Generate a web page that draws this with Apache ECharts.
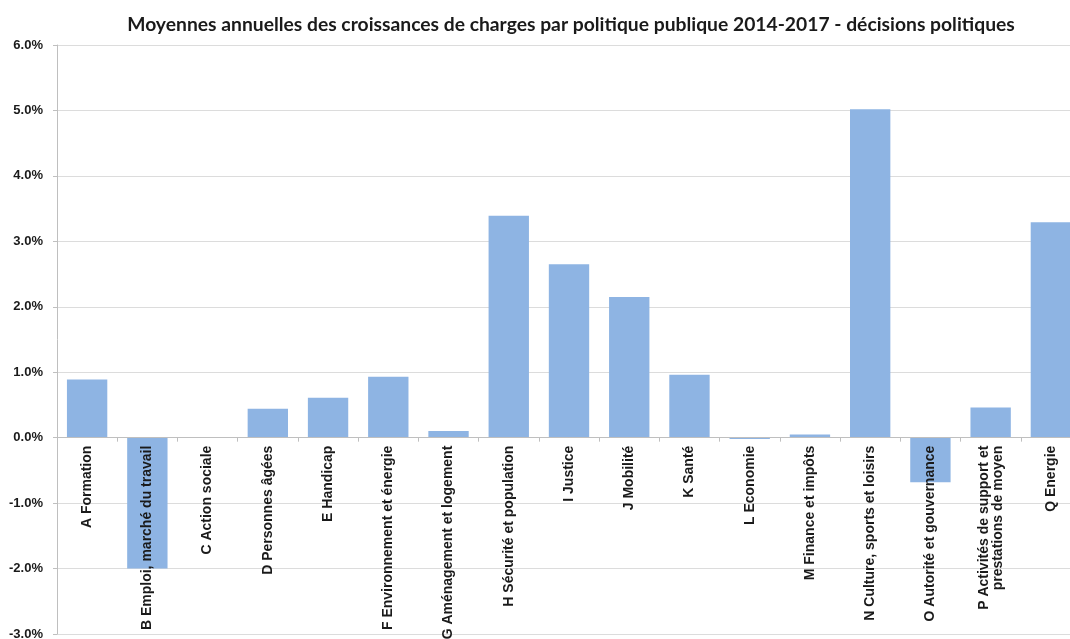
<!DOCTYPE html>
<html>
<head>
<meta charset="utf-8">
<script src="https://cdn.jsdelivr.net/npm/echarts@6/dist/echarts.min.js"></script>
<style>
  html, body { margin: 0; padding: 0; background: #ffffff; overflow: hidden; }
  #chart { width: 1085px; height: 639px; }
</style>
</head>
<body>
<div id="chart"></div>
<script>
// Policy areas (x axis)
const categories = [
  'A Formation',
  'B Emploi, marché du travail',
  'C Action sociale',
  'D Personnes âgées',
  'E Handicap',
  'F Environnement et énergie',
  'G Aménagement et logement',
  'H Sécurité et population',
  'I Justice',
  'J Mobilité',
  'K Santé',
  'L Economie',
  'M Finance et impôts',
  'N Culture, sports et loisirs',
  'O Autorité et gouvernance',
  'P Activités de support et\nprestations de moyen',
  'Q Energie'
];

// Average annual growth of charges, in percent
const growth = [0.89, -2.0, 0.0, 0.44, 0.61, 0.93, 0.10, 3.39, 2.65, 2.15, 0.96, -0.02, 0.05, 5.02, -0.68, 0.46, 3.29];

// Value axis range and step, in percent
const yMin = -3;
const yMax = 6;
const yStep = 1;

const chart = echarts.init(document.getElementById('chart'), null, { renderer: 'canvas' });

chart.setOption({
  backgroundColor: '#ffffff',
  animation: false,
  title: {
    text: 'Moyennes annuelles des croissances de charges par politique publique 2014-2017 - décisions politiques',
    left: 566,
    top: 10,
    textAlign: 'center',
    textStyle: {
      fontFamily: 'Lato, "Open Sans", sans-serif',
      fontWeight: 'bold',
      fontSize: 19.3,
      color: '#1a1a1a'
    }
  },
  grid: {
    left: 57,
    top: 45,
    right: 4,
    bottom: 5,
    containLabel: false,
    outerBoundsMode: 'none'
  },
  xAxis: {
    type: 'category',
    data: categories,
    position: 'bottom',
    offset: 0,
    z: 10,
    axisLine: { onZero: false, lineStyle: { color: '#bfbfbf', width: 1 } },
    axisTick: { show: true, alignWithLabel: false, length: 4, lineStyle: { color: '#bfbfbf' } },
    axisLabel: {
      show: true,
      rotate: 90,
      interval: 0,
      margin: 8,
      fontFamily: 'Liberation Sans, Arial, sans-serif',
      fontWeight: 'bold',
      fontSize: 14,
      lineHeight: 14,
      color: '#1a1a1a'
    },
    splitLine: { show: false }
  },
  yAxis: {
    type: 'value',
    min: yMin,
    max: yMax,
    interval: yStep,
    axisLine: { show: true, lineStyle: { color: '#bfbfbf', width: 1 } },
    axisTick: { show: true, length: 4, lineStyle: { color: '#bfbfbf' } },
    axisLabel: {
      formatter: v => v.toFixed(1) + '%',
      margin: 14,
      fontFamily: 'Liberation Sans, Arial, sans-serif',
      fontWeight: 'bold',
      fontSize: 13,
      color: '#1a1a1a'
    },
    splitLine: { show: true, lineStyle: { color: '#dcdcdc', width: 1 } }
  },
  series: [{
    type: 'bar',
    data: growth,
    barCategoryGap: '33%',
    itemStyle: { color: '#8eb4e3' }
  }]
});

// Lift the category axis (line, ticks and labels) up to the 0% line
const zeroY = chart.convertToPixel({ yAxisIndex: 0 }, 0);
const bottomY = chart.convertToPixel({ yAxisIndex: 0 }, yMin);
chart.setOption({ xAxis: { offset: zeroY - bottomY } });
</script>
</body>
</html>
